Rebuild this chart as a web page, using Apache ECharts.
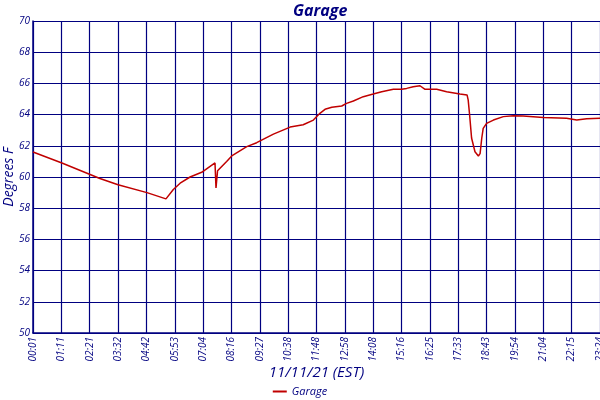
<!DOCTYPE html>
<html lang="en">
  <head>
    <meta charset="UTF-8" />
    <title>Garage</title>
    <script src="https://cdn.jsdelivr.net/npm/echarts@6/dist/echarts.min.js"></script>
    <style>
      body {
        margin: 0;
        padding: 0;
        background: #fff;
      }

      #main {
        width: 600px;
        height: 400px;
      }
    </style>
  </head>

  <body>
    <div id="main"></div>
    <script>
      // tick labels along the time axis (one per grid column)
      const timeLabels = [
        "00:01", "01:11", "02:21", "03:32", "04:42", "05:53", "07:04",
        "08:16", "09:27", "10:38", "11:48", "12:58", "14:08", "15:16",
        "16:25", "17:33", "18:43", "19:54", "21:04", "22:15", "23:24",
      ];
      // position of each reading, in tick steps from 00:01
      const tickPos = [
        0, 1.02, 2.36, 3.0, 4.02, 4.69, 4.95, 5.19, 5.54, 5.95, 6.42, 6.455,
        6.51, 6.83, 7.01, 7.54, 7.89, 8.48, 9.07, 9.53, 9.89, 10.12, 10.3,
        10.54, 10.89, 11.06, 11.3, 11.65, 12.0, 12.3, 12.71, 13.0, 13.18,
        13.41, 13.65, 13.83, 14.24, 14.59, 15.06, 15.31, 15.35, 15.4, 15.47,
        15.59, 15.71, 15.77, 15.83, 15.88, 16.0, 16.24, 16.59, 16.94, 17.29,
        18.0, 18.82, 19.18, 19.53, 20.0,
      ];
      // garage temperature, degrees F
      const garageTemp = [
        61.6, 60.9, 59.9, 59.5, 59.0, 58.6, 59.2, 59.6, 60.0, 60.3, 60.9, 59.3,
        60.4, 61.0, 61.35, 61.95, 62.2, 62.75, 63.2, 63.35, 63.65, 64.08, 64.34,
        64.47, 64.55, 64.72, 64.87, 65.15, 65.32, 65.47, 65.62, 65.62, 65.68,
        65.79, 65.85, 65.62, 65.62, 65.47, 65.32, 65.26, 64.94, 64.0, 62.5,
        61.62, 61.35, 61.5, 62.5, 63.12, 63.44, 63.65, 63.87, 63.93, 63.91,
        63.82, 63.76, 63.65, 63.74, 63.76,
      ];

      const navy = "#000080";
      const font = "Open Sans";
      const chart = echarts.init(document.getElementById("main"));

      chart.setOption({
        backgroundColor: "#fff",
        animation: false,
        title: {
          text: "Garage",
          left: 288,
          top: -2,
          textStyle: {
            color: navy,
            fontFamily: font,
            fontStyle: "italic",
            fontWeight: "bold",
            fontSize: 16,
          },
        },
        grid: {
          left: 33,
          right: 0,
          top: 21,
          bottom: 67,
          containLabel: false,
          outerBoundsMode: "none",
        },
        legend: {
          bottom: -2,
          left: "center",
          itemWidth: 14,
          itemGap: 4,
          icon: "path://M0,0H14V2H0Z",
          textStyle: {
            color: navy,
            fontFamily: font,
            fontStyle: "italic",
            fontSize: 11,
          },
        },
        xAxis: {
          type: "value",
          min: 0,
          max: 20,
          interval: 1,
          name: "11/11/21 (EST)",
          nameLocation: "middle",
          nameGap: 32,
          nameMoveOverlap: false,
          nameTextStyle: {
            color: navy,
            fontFamily: font,
            fontStyle: "italic",
            fontSize: 15,
          },
          axisLine: { lineStyle: { color: navy, width: 1.5 } },
          axisTick: { show: false },
          splitLine: { lineStyle: { color: navy, width: 1.2 } },
          axisLabel: {
            rotate: 90,
            color: navy,
            fontFamily: font,
            fontStyle: "italic",
            fontSize: 10,
            margin: 4,
            showMaxLabel: true,
            formatter: (v) => timeLabels[Math.round(v)],
          },
        },
        yAxis: {
          type: "value",
          min: 50,
          max: 70,
          interval: 2,
          name: "Degrees F",
          nameLocation: "middle",
          nameGap: 17,
          nameMoveOverlap: false,
          nameTextStyle: {
            color: navy,
            fontFamily: font,
            fontStyle: "italic",
            fontSize: 14,
          },
          axisLine: { show: true, lineStyle: { color: navy, width: 1.5 } },
          axisTick: { show: false },
          splitLine: { lineStyle: { color: navy, width: 1.2 } },
          axisLabel: {
            color: navy,
            fontFamily: font,
            fontStyle: "italic",
            fontSize: 10,
            margin: 3,
          },
        },
        series: [
          {
            name: "Garage",
            type: "line",
            showSymbol: false,
            color: "#c00000",
            lineStyle: { color: "#c00000", width: 1.5 },
            data: tickPos.map((p, i) => [p, garageTemp[i]]),
          },
        ],
      });
    </script>
  </body>
</html>
